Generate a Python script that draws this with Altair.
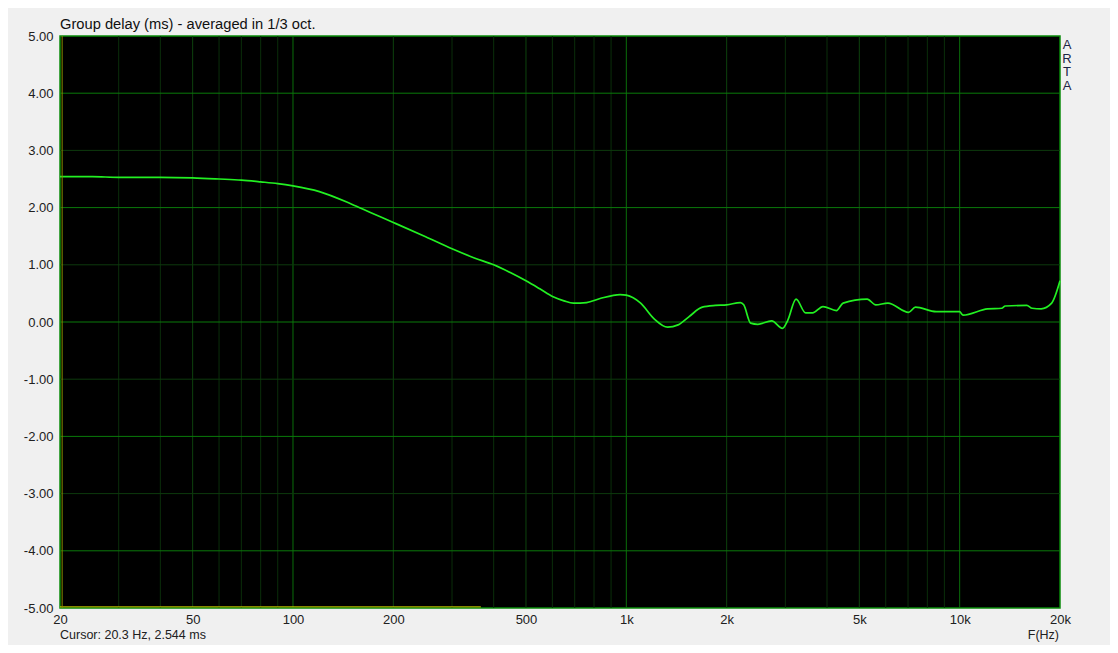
import altair as alt
import pandas as pd

# ---- data ----
freq = [20, 25, 30, 40, 50, 60, 70, 80, 90, 100, 120, 150, 170, 200, 250, 300, 350,
        400, 450, 500, 550, 603, 650, 694, 760, 834, 958, 1000, 1104, 1210, 1330,
        1430, 1540, 1690, 1850, 2000, 2200, 2250, 2360, 2480, 2730, 2940, 3050,
        3230, 3450, 3620, 3890, 4270, 4470, 5280, 5600, 6090, 7030, 7370, 8500,
        9990, 10240, 12130, 13370, 13700, 15900, 16500, 17560, 18880, 20000]
group_delay = [2.54, 2.54, 2.53, 2.53, 2.52, 2.50, 2.48, 2.45, 2.42, 2.38, 2.28, 2.06,
               1.92, 1.74, 1.49, 1.28, 1.12, 1.00, 0.86, 0.72, 0.58, 0.44, 0.37, 0.33,
               0.34, 0.41, 0.48, 0.47, 0.33, 0.06, -0.09, -0.05, 0.09, 0.26, 0.29,
               0.30, 0.34, 0.30, -0.02, -0.04, 0.02, -0.11, 0.03, 0.40, 0.16, 0.16,
               0.27, 0.20, 0.33, 0.40, 0.30, 0.33, 0.17, 0.26, 0.18, 0.18, 0.12, 0.23,
               0.24, 0.28, 0.29, 0.24, 0.23, 0.33, 0.72]

x_ticks = [20, 50, 100, 200, 500, 1000, 2000, 5000, 10000, 20000]
y_ticks = [-5, -4, -3, -2, -1, 0, 1, 2, 3, 4, 5]

grid_decade = [100, 1000, 10000]
grid_mid = [50, 200, 500, 2000, 5000]
grid_minor = [30, 40, 60, 70, 80, 90, 300, 400, 600, 700, 800, 900,
              3000, 4000, 6000, 7000, 8000, 9000]
grid_y_even = [-4, -2, 0, 2, 4]
grid_y_odd = [-3, -1, 1, 3]

cursor_freq = [20.3]
bottom_marker_freq = [20, 366]
bottom_marker_value = -4.98

title_text = "Group delay (ms) - averaged in 1/3 oct."
cursor_text = "Cursor: 20.3 Hz, 2.544 ms"
xunit_text = "F(Hz)"
brand_text = "A\nR\nT\nA"

FONT = "Liberation Sans, Arial, sans-serif"

xscale = alt.Scale(type="log", domain=[20, 20000], nice=False)
yscale = alt.Scale(domain=[-5, 5], nice=False, zero=False)

xaxis = alt.Axis(values=x_ticks, title=None, grid=False, ticks=False, domain=False,
                 labelExpr="datum.value >= 1000 ? (datum.value / 1000) + 'k' : '' + datum.value",
                 labelFont=FONT, labelFontSize=13, labelColor="#202020",
                 labelPadding=5, labelFlush=False, labelOverlap=False)
yaxis = alt.Axis(values=y_ticks, title=None, grid=False, ticks=False, domain=False,
                 labelExpr="(datum.value < 0 ? '-' : '') + format(abs(datum.value), '.2f')",
                 labelFont=FONT, labelFontSize=13, labelColor="#202020",
                 labelPadding=7, labelFlush=False, labelOverlap=False)

def X(field):
    return alt.X(field, type="quantitative", scale=xscale, axis=xaxis)

def Y(field):
    return alt.Y(field, type="quantitative", scale=yscale, axis=yaxis)

curve_df = pd.DataFrame({"f": freq, "v": group_delay})

def vrules(vals, color):
    return alt.Chart(pd.DataFrame({"f": vals})).mark_rule(color=color, strokeWidth=1).encode(x=X("f"))

def hrules(vals, color):
    return alt.Chart(pd.DataFrame({"v": vals})).mark_rule(color=color, strokeWidth=1).encode(y=Y("v"))

grid = (vrules(grid_minor, "#0a2e0a") + vrules(grid_mid, "#0d420d") + vrules(grid_decade, "#0a6e0a")
        + hrules(grid_y_odd, "#0d3a0d") + hrules(grid_y_even, "#0a7a0a"))

cursor = alt.Chart(pd.DataFrame({"f": cursor_freq})).mark_rule(color="#8a8a00", strokeWidth=1).encode(
    x=X("f"))

bottom_marker = alt.Chart(pd.DataFrame({"f": [bottom_marker_freq[0]], "f2": [bottom_marker_freq[1]],
                                        "v": [bottom_marker_value]})).mark_rule(
    color="#d0d000", strokeWidth=1).encode(x=X("f"), x2="f2:Q", y=Y("v"))

line = alt.Chart(curve_df).mark_line(color="#22f022", strokeWidth=1.7, interpolate="monotone").encode(
    x=X("f"), y=Y("v"))

def text_layer(txt, x, y, align="left", baseline="middle", size=13, color="#202020", **kw):
    return alt.Chart(pd.DataFrame({"t": [txt]})).mark_text(
        align=align, baseline=baseline, font=FONT, fontSize=size, color=color, **kw).encode(
        x=alt.value(x), y=alt.value(y), text="t:N")

title = text_layer(title_text, 0, -11, size=14.7, color="#101010")
cursor_lbl = text_layer(cursor_text, 0, 599, size=12.5)
xunit = text_layer(xunit_text, 999, 599, align="right", size=12.5)
brand = text_layer(brand_text, 1007, 3, align="center", baseline="top", size=13,
                   color="#1c2444", lineBreak="\n", lineHeight=13.5)

chart = alt.layer(grid, bottom_marker, line, cursor, title, cursor_lbl, xunit, brand).properties(
    width=1000, height=572,
    autosize=alt.AutoSizeParams(type="none"),
    padding={"left": 52, "top": 28, "right": 50, "bottom": 37},
    background="#f0f0f0",
).configure_view(fill="#000000", stroke="#0a8a0a", strokeWidth=1.5)

chart.save("out.html", embed_options={"renderer": "svg", "actions": False})
